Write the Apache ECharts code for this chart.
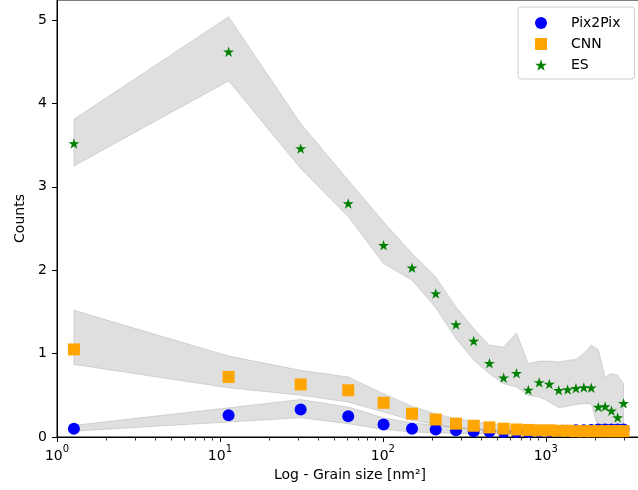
<!DOCTYPE html>
<html>
<head>
<meta charset="utf-8">
<script src="https://cdn.jsdelivr.net/npm/echarts@6/dist/echarts.min.js"></script>
<style>
  html, body { margin: 0; padding: 0; background: #fff; }
  #chart { width: 638px; height: 490px; }
</style>
</head>
<body>
<div id="chart"></div>
<script>
// grain size bins (nm^2)
const grainSize = [1.27, 11.3, 31.3, 61.3, 101, 151, 211, 281, 361, 451, 551, 661, 781,
    911, 1051, 1201, 1361, 1531, 1711, 1901, 2101, 2311, 2531, 2761, 3001];

// Pix2Pix
const pixMean = [0.10, 0.26, 0.33, 0.25, 0.15, 0.10, 0.09, 0.08, 0.07, 0.065, 0.06, 0.06, 0.06,
    0.065, 0.07, 0.07, 0.075, 0.08, 0.08, 0.085, 0.09, 0.09, 0.09, 0.09, 0.09];
const pixLow = [0.07, 0.18, 0.23, 0.16, 0.09, 0.06, 0.05, 0.045, 0.04, 0.04, 0.04, 0.04, 0.04,
    0.045, 0.05, 0.05, 0.055, 0.06, 0.06, 0.065, 0.07, 0.07, 0.07, 0.07, 0.07];
const pixHigh = [0.14, 0.35, 0.45, 0.36, 0.23, 0.17, 0.14, 0.12, 0.10, 0.09, 0.08, 0.08, 0.08,
    0.085, 0.09, 0.09, 0.095, 0.10, 0.10, 0.105, 0.11, 0.11, 0.11, 0.11, 0.11];

// CNN
const cnnMean = [1.05, 0.72, 0.63, 0.56, 0.41, 0.28, 0.21, 0.16, 0.135, 0.115, 0.10, 0.09, 0.085,
    0.08, 0.08, 0.075, 0.075, 0.07, 0.07, 0.07, 0.07, 0.07, 0.07, 0.07, 0.07];
const cnnLow = [0.87, 0.59, 0.50, 0.42, 0.30, 0.20, 0.15, 0.11, 0.09, 0.075, 0.065, 0.06, 0.055,
    0.05, 0.05, 0.05, 0.05, 0.045, 0.045, 0.045, 0.045, 0.045, 0.045, 0.045, 0.045];
const cnnHigh = [1.52, 0.97, 0.80, 0.72, 0.52, 0.37, 0.28, 0.22, 0.19, 0.155, 0.14, 0.125, 0.115,
    0.11, 0.11, 0.10, 0.10, 0.095, 0.095, 0.095, 0.095, 0.095, 0.095, 0.095, 0.095];

// ES
const esMean = [3.52, 4.62, 3.46, 2.80, 2.30, 2.03, 1.72, 1.35, 1.15, 0.885, 0.71, 0.765, 0.565,
    0.655, 0.635, 0.56, 0.57, 0.585, 0.595, 0.59, 0.36, 0.365, 0.315, 0.235, 0.405];
const esLow = [3.25, 4.27, 3.22, 2.64, 2.08, 1.88, 1.55, 1.18, 0.92, 0.76, 0.64, 0.60, 0.50,
    0.48, 0.42, 0.35, 0.37, 0.39, 0.40, 0.40, 0.10, 0.10, 0.10, 0.10, 0.10];
const esHigh = [3.81, 5.04, 3.76, 3.08, 2.58, 2.20, 1.92, 1.56, 1.30, 1.10, 1.08, 1.25, 0.88,
    0.91, 0.91, 0.90, 0.92, 0.93, 1.00, 1.10, 1.05, 0.72, 0.76, 0.74, 0.64];

const majorTicks = [1, 10, 100, 1000];
const minorTicks = [2, 3, 4, 5, 6, 7, 8, 9, 20, 30, 40, 50, 60, 70, 80, 90,
    200, 300, 400, 500, 600, 700, 800, 900, 2000, 3000];

const fontName = 'DejaVu Sans';
const bandColor = 'rgba(128,128,128,0.25)';
const starPath = 'path://M0,-100L22.45,-30.9L95.1,-30.9L36.3,11.8L58.8,80.9L0,38.2L-58.8,80.9L-36.3,11.8L-95.1,-30.9L-22.45,-30.9Z';

let chart = echarts.init(document.getElementById('chart'), null, {renderer: 'canvas'});

function bandSeries(low, high) {
    return {
        type: 'custom',
        silent: true,
        z: 1,
        data: grainSize.map(function (x, i) { return [x, low[i], high[i]]; }),
        encode: {x: 0, y: [1, 2]},
        renderItem: function (params, api) {
            if (params.dataIndex !== 0) return;
            let top = [], bottom = [];
            for (let i = 0; i < grainSize.length; i++) {
                top.push(api.coord([grainSize[i], high[i]]));
                bottom.push(api.coord([grainSize[i], low[i]]));
            }
            return {
                type: 'polygon',
                shape: {points: top.concat(bottom.reverse())},
                style: {fill: bandColor, stroke: bandColor, lineWidth: 1}
            };
        }
    };
}

// log-axis minor ticks, placed through the x scale
function minorTickSeries() {
    return {
        type: 'custom',
        silent: true,
        clip: false,
        z: 6,
        data: minorTicks.map(function (v) { return [v, 0]; }),
        renderItem: function (params, api) {
            let p = api.coord([api.value(0), 0]);
            let x = Math.round(p[0]) + 0.5;
            return {
                type: 'line',
                shape: {x1: x, y1: p[1], x2: x, y2: p[1] + 3.5},
                style: {stroke: '#000', lineWidth: 0.8}
            };
        }
    };
}

function pointSeries(name, values, symbol, size, color, z) {
    return {
        name: name,
        type: 'scatter',
        z: z,
        symbol: symbol,
        symbolSize: size,
        symbolKeepAspect: true,
        itemStyle: {color: color, opacity: 1},
        data: grainSize.map(function (x, i) { return [x, values[i]]; })
    };
}

let option = {
    backgroundColor: '#fff',
    animation: false,
    textStyle: {fontFamily: fontName},
    grid: {
        left: 57,
        right: -5,
        top: 0,
        bottom: 53,
        outerBoundsMode: 'none',
        containLabel: false,
        show: true,
        borderColor: '#000',
        borderWidth: 1,
        backgroundColor: 'transparent'
    },
    legend: {
        orient: 'vertical',
        left: 518,
        top: 7,
        padding: [9, 14, 7, 17],
        itemGap: 7,
        itemWidth: 12,
        itemHeight: 12,
        backgroundColor: 'rgba(255,255,255,0.8)',
        borderColor: '#cccccc',
        borderWidth: 1,
        borderRadius: 3,
        textStyle: {fontFamily: fontName, fontSize: 14, color: '#000', padding: [0, 0, 0, 19], lineHeight: 14},
        data: [
            {name: 'Pix2Pix', icon: 'circle', itemStyle: {color: '#0000ff'}},
            {name: 'CNN', icon: 'rect', itemStyle: {color: '#ffa500'}},
            {name: 'ES', icon: starPath, itemStyle: {color: '#008000'}}
        ]
    },
    xAxis: {
        type: 'log',
        logBase: 10,
        min: 1,
        max: 3950,
        name: 'Log - Grain size [nm²]',
        nameLocation: 'middle',
        nameGap: 28,
        nameTextStyle: {fontFamily: fontName, fontSize: 14, color: '#000'},
        splitLine: {show: false},
        axisLine: {show: true, lineStyle: {color: '#000', width: 1}},
        axisTick: {show: true, inside: false, length: 5, lineStyle: {color: '#000'}, customValues: majorTicks},
        axisLabel: {
            color: '#000',
            margin: 7,
            customValues: majorTicks,
            formatter: function (v) {
                return '{b|10}{s|' + Math.round(Math.log10(v)) + '}';
            },
            rich: {
                b: {fontFamily: fontName, fontSize: 14, color: '#000', verticalAlign: 'bottom', padding: [5, 0, 0, 0]},
                s: {fontFamily: fontName, fontSize: 10, color: '#000', verticalAlign: 'top'}
            }
        }
    },
    yAxis: {
        type: 'value',
        min: 0,
        max: 5.24,
        interval: 1,
        name: 'Counts',
        nameLocation: 'middle',
        nameGap: 30,
        nameTextStyle: {fontFamily: fontName, fontSize: 14, color: '#000'},
        splitLine: {show: false},
        axisLine: {show: true, lineStyle: {color: '#000', width: 1}},
        axisTick: {show: true, inside: false, length: 5, lineStyle: {color: '#000'}},
        axisLabel: {color: '#000', fontFamily: fontName, fontSize: 14, margin: 10, showMaxLabel: false}
    },
    series: [
        bandSeries(pixLow, pixHigh),
        bandSeries(cnnLow, cnnHigh),
        bandSeries(esLow, esHigh),
        pointSeries('Pix2Pix', pixMean, 'circle', 12, '#0000ff', 3),
        pointSeries('CNN', cnnMean, 'rect', 12, '#ffa500', 4),
        pointSeries('ES', esMean, starPath, 11, '#008000', 5),
        minorTickSeries()
    ]
};
chart.setOption(option);
</script>
</body>
</html>
